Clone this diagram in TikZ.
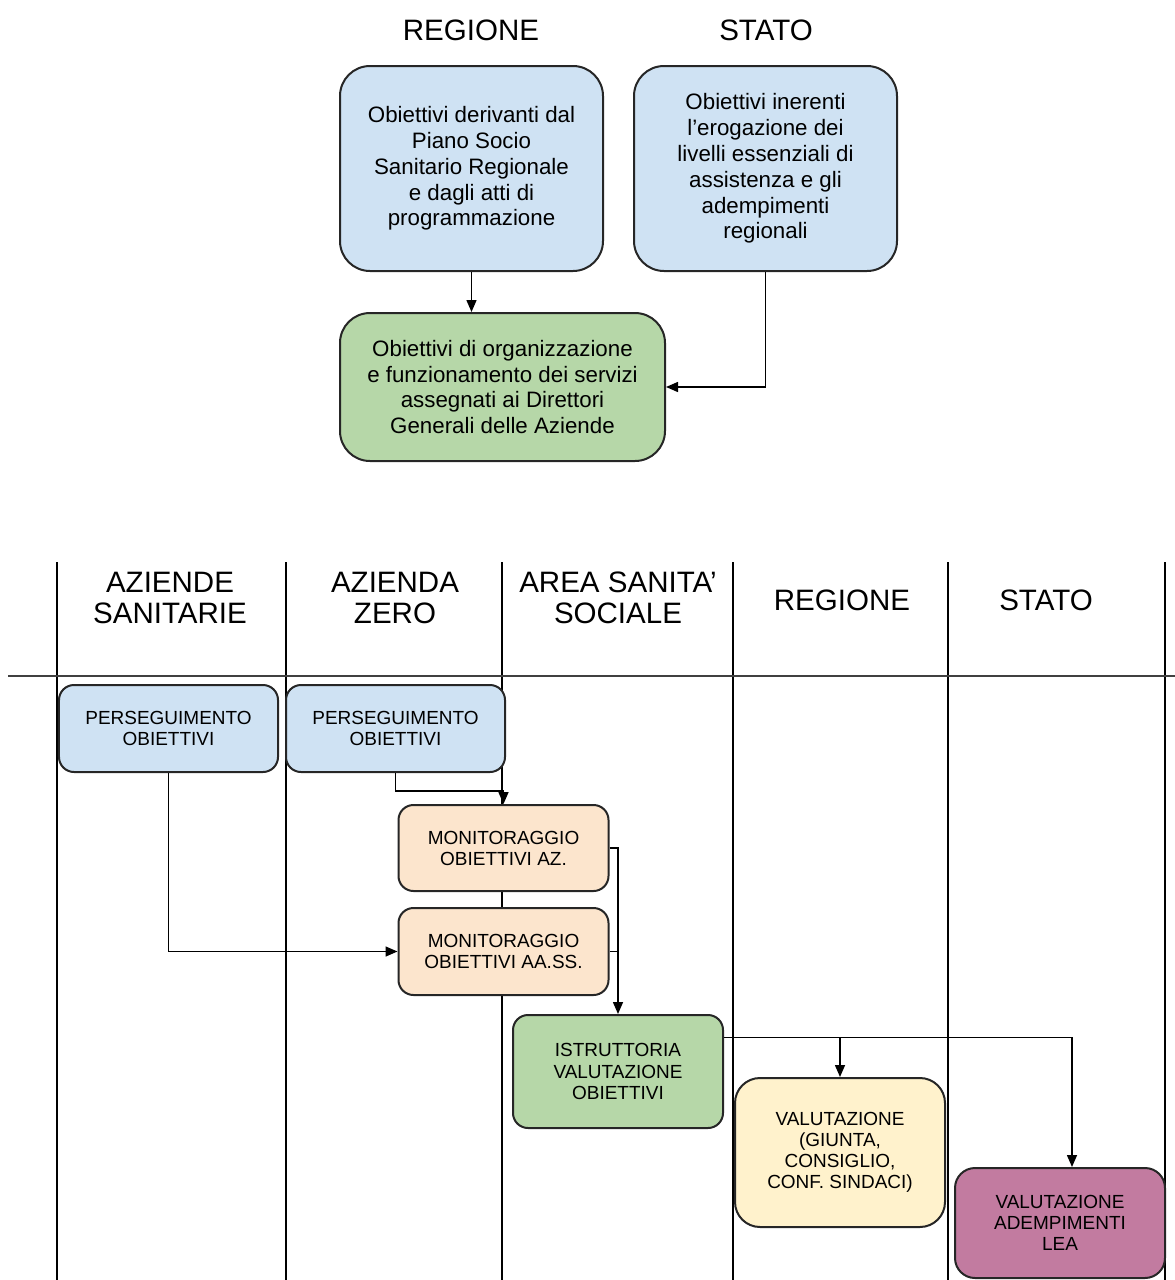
\documentclass[tikz,border=0pt]{standalone}
\usepackage{fontspec}
\setmainfont{Liberation Sans}
\usetikzlibrary{arrows.meta,calc}
\tikzstyle{every path}=[line width=0.3mm]
\tikzstyle{box}=[draw=black!85, line width=0.4mm, align=center, inner sep=0pt]
\tikzstyle{bigbox}=[box, rounded corners=6mm, font=\fontsize{12.7}{14.7}\selectfont]
\tikzstyle{smallbox}=[box, rounded corners=3mm, minimum width=42mm, font=\fontsize{10.8}{12}\selectfont]
\tikzstyle{title}=[align=center, font=\fontsize{16.8}{17.6}\selectfont]
\tikzstyle{arr}=[-{Triangle[length=2.4mm,width=2mm]}]
\definecolor{regionblue}{RGB}{207,226,243}
\definecolor{directorgreen}{RGB}{182,215,168}
\definecolor{monitororange}{RGB}{252,229,205}
\definecolor{councilyellow}{RGB}{255,242,204}
\definecolor{leapurple}{RGB}{194,123,160}

\begin{document}
\begin{tikzpicture}[x=0.2mm, y=-0.2mm]
    \useasboundingbox (0,0) rectangle (1175,1280);

    \node[title] (regtitle) at (471,30) {REGIONE};
    \node[title] (statitle) at (766,30) {STATO};

    \node[bigbox, fill=regionblue, minimum width=52.6mm, minimum height=41mm] (piano) at (471.5,168.5)
        {Obiettivi derivanti dal\\Piano Socio\\Sanitario Regionale\\e dagli atti di\\programmazione};
    \node[bigbox, fill=regionblue, minimum width=52.6mm, minimum height=41mm] (livelli) at (765.5,168.5)
        {Obiettivi inerenti\\l’erogazione dei\\livelli essenziali di\\assistenza e gli\\adempimenti\\regionali};
    \node[bigbox, fill=directorgreen, minimum width=65mm, minimum height=29.6mm] (direttori) at (502.5,387)
        {Obiettivi di organizzazione\\e funzionamento dei servizi\\assegnati ai Direttori\\Generali delle Aziende};

    \draw[arr] (piano.south) -- (piano.south |- direttori.north);
    \draw[arr] (livelli.south) |- (direttori.east);

    \foreach \x in {57,286,502,733,948,1165}
        \draw (\x,562) -- (\x,1280);
    \draw[black!75] (8,676) -- (1175,676);

    \node[title] (hdsanitarie) at (170,598) {AZIENDE\\SANITARIE};
    \node[title] (hdzero) at (395,598) {AZIENDA\\ZERO};
    \node[title] (hdsociale) at (618,598) {AREA SANITA’\\SOCIALE};
    \node[title] (hdregione) at (842,600) {REGIONE};
    \node[title] (hdstato) at (1046,600) {STATO};

    \node[smallbox, fill=regionblue, minimum width=43.8mm, minimum height=17.4mm] (persan) at (168.5,728.5)
        {PERSEGUIMENTO\\OBIETTIVI};
    \node[smallbox, fill=regionblue, minimum width=43.8mm, minimum height=17.4mm] (perzero) at (395.5,728.5)
        {PERSEGUIMENTO\\OBIETTIVI};
    \node[smallbox, fill=monitororange, minimum height=17.2mm] (monaz) at (503.5,848)
        {MONITORAGGIO\\OBIETTIVI AZ.};
    \node[smallbox, fill=monitororange, minimum height=17.4mm] (monass) at (503.5,951.5)
        {MONITORAGGIO\\OBIETTIVI AA.SS.};
    \node[smallbox, fill=directorgreen, minimum height=22.6mm] (istruttoria) at (618,1071.5)
        {ISTRUTTORIA\\VALUTAZIONE\\OBIETTIVI};
    \node[smallbox, fill=councilyellow, rounded corners=5mm, minimum height=29.8mm] (giunta) at (840,1152.5)
        {VALUTAZIONE\\(GIUNTA,\\CONSIGLIO,\\CONF. SINDACI)};
    \node[smallbox, fill=leapurple, rounded corners=4mm, minimum height=22mm] (lea) at (1060,1223)
        {VALUTAZIONE\\ADEMPIMENTI\\LEA};

    \draw[arr] (perzero.south) -- ++(0,18) -| (monaz.north);
    \draw[arr] (persan.south) |- (monass.west);
    \draw[arr] (monaz.east) -| (istruttoria.north);
    \draw (monass.east) -- (monass.east -| istruttoria.north);
    \coordinate (fork) at ($(istruttoria.east)+(0,-34)$);
    \draw[arr] (fork) -| ([xshift=2.4mm]lea.north);
    \draw[arr] (fork -| giunta.north) -- (giunta.north);
\end{tikzpicture}
\end{document}
